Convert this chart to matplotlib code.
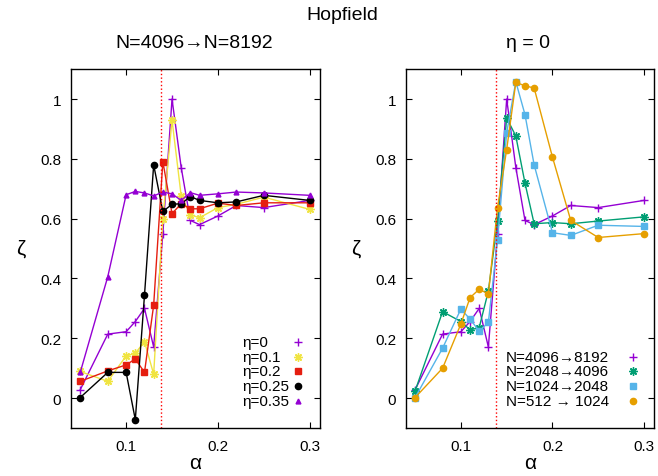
import matplotlib
matplotlib.use('Agg')
import matplotlib.pyplot as plt

plt.rcParams['font.family'] = ['Liberation Sans', 'DejaVu Sans']

alpha = [0.05, 0.08, 0.1, 0.11, 0.12, 0.13, 0.14, 0.15, 0.16, 0.17, 0.18, 0.2, 0.22, 0.25, 0.3]

# left panel: N=4096 -> N=8192, different eta
eta0 = [0.028, 0.214, 0.222, 0.256, 0.300, 0.171, 0.55, 1.0, 0.771, 0.594, 0.580, 0.609, 0.644, 0.637, 0.661]
eta01 = [0.089, 0.056, 0.141, 0.150, 0.189, 0.080, 0.600, 0.930, 0.676, 0.613, 0.603, 0.637, 0.648, 0.672, 0.631]
eta02 = [0.056, 0.091, 0.111, 0.131, 0.086, 0.311, 0.791, 0.617, 0.650, 0.633, 0.633, 0.652, 0.644, 0.653, 0.653]
eta025 = [0.002, 0.086, 0.086, -0.072, 0.344, 0.780, 0.624, 0.648, 0.650, 0.674, 0.661, 0.653, 0.656, 0.678, 0.661]
eta035 = [0.086, 0.406, 0.680, 0.691, 0.686, 0.676, 0.689, 0.683, 0.661, 0.687, 0.678, 0.683, 0.689, 0.686, 0.678]

# right panel: eta = 0, different sizes
n4096 = eta0
n2048 = [0.024, 0.289, 0.256, 0.228, 0.236, 0.358, 0.592, 0.937, 0.876, 0.719, 0.583, 0.587, 0.583, 0.592, 0.606]
n1024 = [0.002, 0.167, 0.298, 0.264, 0.224, 0.253, 0.528, 0.887, 1.058, 0.948, 0.780, 0.553, 0.544, 0.578, 0.574]
n512 = [0.002, 0.100, 0.248, 0.336, 0.364, 0.348, 0.637, 0.831, 1.056, 1.044, 1.037, 0.806, 0.594, 0.537, 0.550]

alpha_c = 0.138

purple = '#9400d3'
yellow = '#f0e442'
red = '#e51e10'
green = '#009e73'
blue = '#56b4e9'
orange = '#e69f00'
star = (8, 2, 0)

fig = plt.figure(figsize=(6.58, 4.77), dpi=100)
ax1 = fig.add_axes([0.108, 0.1006, 0.378, 0.7524])
ax2 = fig.add_axes([0.617, 0.1006, 0.377, 0.7524])

left_series = [
    (eta0, purple, '+', 6, 'η=0'),
    (eta01, yellow, star, 6, 'η=0.1'),
    (eta02, red, 's', 4.5, 'η=0.2'),
    (eta025, 'black', 'o', 4.5, 'η=0.25'),
    (eta035, purple, '^', 3.5, 'η=0.35'),
]
right_series = [
    (n4096, purple, '+', 6, 'N=4096→8192'),
    (n2048, green, star, 6, 'N=2048→4096'),
    (n1024, blue, 's', 4.5, 'N=1024→2048'),
    (n512, orange, 'o', 4.5, 'N=512 → 1024'),
]

# key rows (axes fraction), gnuplot style: text left, point right
rows = [0.240, 0.199, 0.158, 0.117, 0.076]

for ax, series, tx, mx in [(ax1, left_series, 0.687, 0.912), (ax2, right_series, 0.403, 0.915)]:
    ys = rows[len(rows) - len(series):]
    for (vals, col, mk, ms, lab), ky in zip(series, ys):
        ax.plot(alpha, vals, color=col, marker=mk, markersize=ms, lw=1, mew=1)
        ax.text(tx, ky, lab, transform=ax.transAxes, ha='left', va='center', fontsize=11)
        ax.plot([mx], [ky], transform=ax.transAxes, ls='none', color=col,
                marker=mk, markersize=ms, mew=1)
    ax.axvline(alpha_c, color='red', ls=':', lw=1)
    ax.set_xlim(0.04, 0.311)
    ax.set_ylim(-0.1, 1.1)
    ax.set_xticks([0.1, 0.2, 0.3])
    ax.set_xticklabels(['0.1', '0.2', '0.3'])
    ax.set_yticks([0, 0.2, 0.4, 0.6, 0.8, 1.0])
    ax.set_yticklabels(['0', '0.2', '0.4', '0.6', '0.8', '1'])
    ax.tick_params(direction='in', top=True, right=True, labelsize=11, length=4)
    ax.tick_params(axis='x', pad=8)
    ax.tick_params(axis='y', pad=7)
    for s in ax.spines.values():
        s.set_linewidth(1)
    ax.set_xlabel('α', fontsize=15, labelpad=0)
    ax.set_ylabel('ζ', fontsize=15, rotation=0, labelpad=14, va='center')

fig.text(0.52, 0.968, 'Hopfield', ha='center', va='center', fontsize=14)
fig.text(0.295, 0.908, 'N=4096→N=8192', ha='center', va='center', fontsize=14)
fig.text(0.803, 0.908, 'η = 0', ha='center', va='center', fontsize=14)

fig.savefig('out.png', dpi=100)
